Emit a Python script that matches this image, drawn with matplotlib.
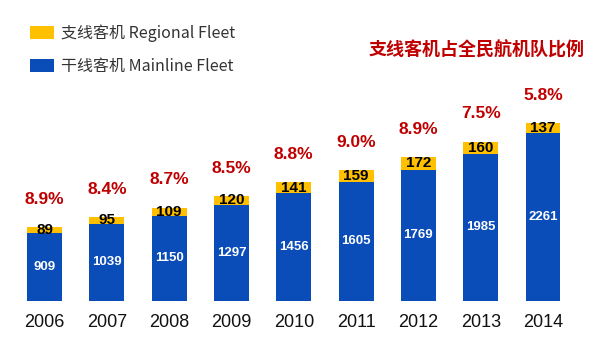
import matplotlib
matplotlib.use("Agg")
import matplotlib.pyplot as plt

plt.rcParams['font.family'] = ['Liberation Sans', 'Noto Sans CJK SC', 'DejaVu Sans']

years = ["2006", "2007", "2008", "2009", "2010", "2011", "2012", "2013", "2014"]
mainline = [909, 1039, 1150, 1297, 1456, 1605, 1769, 1985, 2261]
regional = [89, 95, 109, 120, 141, 159, 172, 160, 137]
share = ["8.9%", "8.4%", "8.7%", "8.5%", "8.8%", "9.0%", "8.9%", "7.5%", "5.8%"]

blue = "#0A4CB8"
yellow = "#FFC000"
red = "#C00000"

fig = plt.figure(figsize=(5.99, 3.42), dpi=100)
ax = fig.add_axes([0.012, 0.12, 0.957, 0.651])

x = range(len(years))
b1 = ax.bar(x, mainline, width=0.56, color=blue, label="干线客机 Mainline Fleet")
b2 = ax.bar(x, regional, width=0.56, bottom=mainline, color=yellow,
            label="支线客机 Regional Fleet")

for i in x:
    ax.text(i, mainline[i] / 2, str(mainline[i]), ha="center", va="center",
            color="white", fontsize=9.5, fontweight="bold")
    ax.text(i, mainline[i] + regional[i] / 2, str(regional[i]), ha="center",
            va="center", color="black", fontsize=11, fontweight="bold")
    ax.annotate(share[i], (i, mainline[i] + regional[i]), xytext=(0, 20),
                textcoords="offset points", ha="center", va="center",
                color=red, fontsize=12.5, fontweight="bold", annotation_clip=False)

ax.set_xlim(-0.6, 8.6)
ax.set_ylim(0, 3000)
ax.set_xticks(list(x))
ax.set_xticklabels(years, fontsize=13, color="#111111")
ax.tick_params(axis="x", length=0, pad=9.5)
ax.set_yticks([])
for s in ax.spines.values():
    s.set_visible(False)

# legend, yellow first
fig.legend([b2, b1], [b2.get_label(), b1.get_label()],
           loc="upper left", bbox_to_anchor=(0.04, 0.948), frameon=False,
           labelcolor="#333333", handlelength=1.45, handleheight=0.9,
           handletextpad=0.5, labelspacing=1.0, borderaxespad=0,
           prop={'family': ['Noto Sans CJK SC', 'DejaVu Sans'], 'size': 11.5})

fig.text(0.976, 0.855, "支线客机占全民航机队比例", ha="right", va="center",
         color=red, fontsize=13, fontweight="bold",
         family=['Noto Sans CJK SC', 'DejaVu Sans'])

fig.savefig("out.png", dpi=100)
